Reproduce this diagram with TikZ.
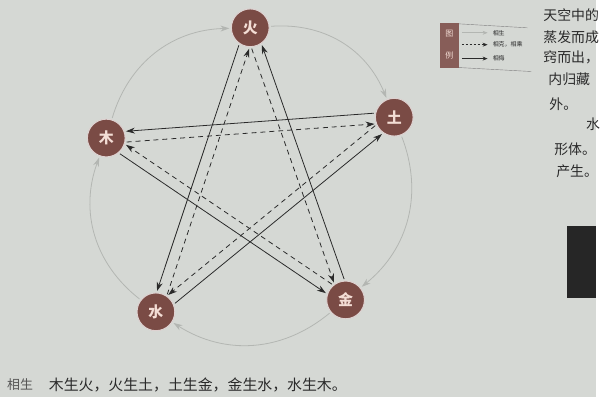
\documentclass[tikz,border=0pt]{standalone}
\usepackage{fontspec}
\newfontfamily\cjk{Noto Sans CJK SC}
\usetikzlibrary{arrows.meta}

\definecolor{paper}{HTML}{D5D8D4}
\definecolor{elemfill}{HTML}{7A4B45}
\definecolor{elemtext}{HTML}{F3DDD5}
\definecolor{ringgray}{HTML}{B3B6B2}
\definecolor{ink}{HTML}{2A2A2A}

\newcommand{\Tip}{Stealth[length=9pt,width=6pt]}
\newcommand{\SmallTip}{Stealth[length=5pt,width=4pt]}

\tikzset{
    elem/.style={circle,fill=elemfill,draw=white!75!elemfill,line width=1pt,
        minimum size=38pt,inner sep=0pt,outer sep=2pt,text=elemtext,
        font=\cjk\fontsize{15}{15}\selectfont\bfseries},
    sheng/.style={ringgray,line width=0.8pt,-{Stealth[length=9pt,width=6pt]},bend left=36},
    ke/.style={ink,line width=0.8pt,dash pattern=on 5pt off 4pt,-{\Tip}},
    wu/.style={ink,line width=0.8pt,-{\Tip}},
    bodytext/.style={anchor=west,inner sep=0pt,text=ink,font=\cjk\fontsize{14}{14}\selectfont},
}

\begin{document}
\begin{tikzpicture}[x=1pt,y=-1pt]
        \fill[paper] (0,0) rectangle (600,400);% page

        \node[elem] (Huo) at (252,28) {火};
        \node[elem] (Tu) at (397,118) {土};
        \node[elem] (Mu) at (107,139) {木};
        \node[elem] (Shui) at (157,314) {水};
        \node[elem] (Jin) at (348,302) {金};

        \draw[sheng] (Mu) to (Huo);% Wood feeds Fire
        \draw[sheng] (Huo) to (Tu);
        \draw[sheng] (Tu) to (Jin);
        \draw[sheng] (Jin) to (Shui);
        \draw[sheng] (Shui) to (Mu);

        \draw[wu] (Tu.169) -- (Mu.19);% Wood -- Earth
        \draw[ke] (Mu.-11) -- (Tu.199);
        \draw[wu] (Huo.237) -- (Shui.87);% Fire -- Water
        \draw[ke] (Shui.57) -- (Huo.267);
        \draw[wu] (Jin.94) -- (Huo.304);% Fire -- Metal
        \draw[ke] (Huo.274) -- (Jin.124);
        \draw[wu] (Mu.311) -- (Jin.161);% Wood -- Metal
        \draw[ke] (Jin.131) -- (Mu.341);
        \draw[wu] (Shui.24) -- (Tu.234);% Earth -- Water
        \draw[ke] (Tu.204) -- (Shui.54);

        % legend
        \fill[elemfill!90!white] (443,23) rectangle (462,68);
        \node[text=elemtext,font=\cjk\fontsize{8}{8}\selectfont] (LegTop) at (452.5,34) {图};
        \node[text=elemtext,font=\cjk\fontsize{8}{8}\selectfont] (LegBot) at (452.5,56) {例};
        \draw[gray,line width=0.4pt] (462,24) -- (531,28);
        \draw[gray,line width=0.4pt] (462,68) -- (535,72);
        \node[anchor=west,inner sep=0pt,text=ink,font=\cjk\fontsize{6}{6}\selectfont] (LabSheng) at (496,33) {相生};
        \node[anchor=west,inner sep=0pt,text=ink,font=\cjk\fontsize{6}{6}\selectfont] (LabKe) at (496,45) {相克，相乘};
        \node[anchor=west,inner sep=0pt,text=ink,font=\cjk\fontsize{6}{6}\selectfont] (LabWu) at (496,59) {相侮};
        \coordinate (S1) at (465,33);
        \coordinate (S2) at (465,45);
        \coordinate (S3) at (465,59);
        \draw[ringgray,line width=0.6pt,-{\SmallTip}] (S1) -- ([xshift=-5pt]LabSheng.west);
        \draw[ink,line width=0.7pt,dash pattern=on 2pt off 2pt,-{\SmallTip}] (S2) -- ([xshift=-5pt]LabKe.west);
        \draw[ink,line width=0.7pt,-{\SmallTip}] (S3) -- ([xshift=-5pt]LabWu.west);

        % caption
        \node[bodytext,text=ink!80,font=\cjk\fontsize{13}{13}\selectfont] (Cap) at (7,387) {相生};
        \node[bodytext,font=\cjk\fontsize{15}{15}\selectfont] (CapSeq) at (49,388) {木生火，火生土，土生金，金生水，水生木。};

        % page text on the right
        \node[bodytext] (R1) at (547,15) {天空中的};
        \node[bodytext] (R2) at (547,37) {蒸发而成};
        \node[bodytext] (R3) at (547,58) {窍而出，};
        \node[bodytext] (R4) at (552,80) {内归藏};
        \node[bodytext] (R5) at (553,105) {外。};
        \node[bodytext] (R6) at (590,125) {水};
        \node[bodytext] (R7) at (558,150) {形体。};
        \node[bodytext] (R8) at (560,172) {产生。};
        \fill[black!85] (571,228) rectangle (600,300);

        \useasboundingbox (0,0) rectangle (600,400);
\end{tikzpicture}
\end{document}
